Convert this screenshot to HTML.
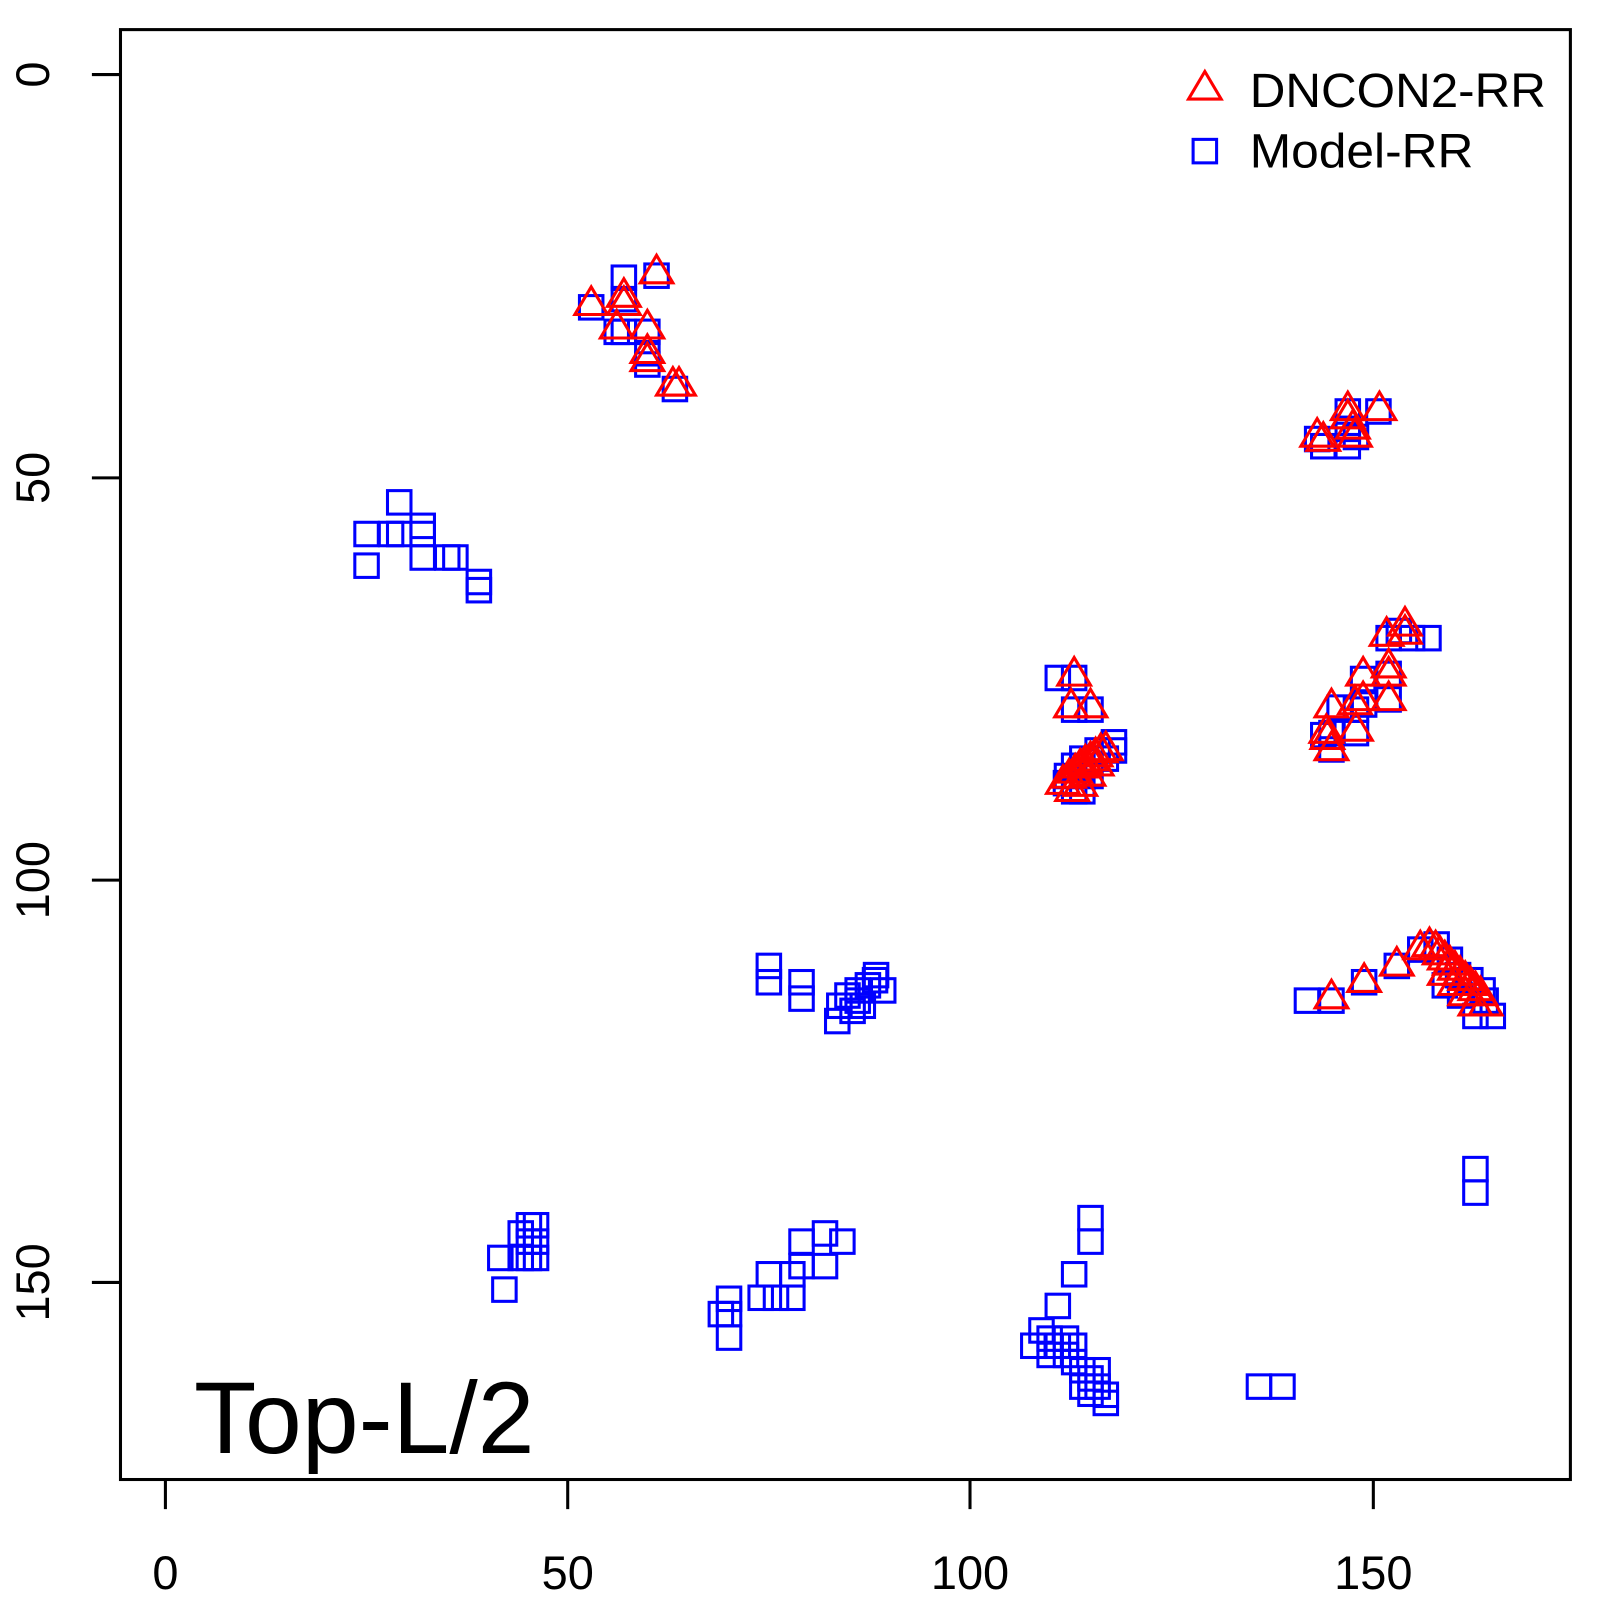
<!DOCTYPE html>
<html><head><meta charset="utf-8"><style>html,body{margin:0;padding:0;background:#fff}svg{display:block}</style></head>
<body>
<svg id="s" width="1600" height="1600" viewBox="0 0 1567 1567" xmlns="http://www.w3.org/2000/svg" font-family="Liberation Sans, Arial, sans-serif">
<rect x="0" y="0" width="1567" height="1567" fill="#fff"/>
<rect x="118" y="29" width="1420" height="1420" fill="none" stroke="#000" stroke-width="3"/>
<g stroke="#000" stroke-width="3">
<line x1="90" y1="73" x2="118" y2="73"/><line x1="90" y1="468" x2="118" y2="468"/><line x1="90" y1="862" x2="118" y2="862"/><line x1="90" y1="1256" x2="118" y2="1256"/>
<line x1="162" y1="1449" x2="162" y2="1478"/><line x1="556" y1="1449" x2="556" y2="1478"/><line x1="950" y1="1449" x2="950" y2="1478"/><line x1="1345" y1="1449" x2="1345" y2="1478"/>
</g>
<g font-size="46" text-anchor="middle" fill="#000">
<text transform="translate(48,73) rotate(-90)">0</text>
<text transform="translate(48,468) rotate(-90)">50</text>
<text transform="translate(48,862) rotate(-90)">100</text>
<text transform="translate(48,1256) rotate(-90)">150</text>
<text x="162" y="1556">0</text><text x="556" y="1556">50</text><text x="950" y="1556">100</text><text x="1345" y="1556">150</text>
</g>
<text x="190" y="1423" font-size="100" fill="#000">Top-L/2</text>
<text x="1224" y="105" font-size="47" fill="#000" textLength="290" lengthAdjust="spacingAndGlyphs">DNCON2-RR</text>
<text x="1224" y="164" font-size="47" fill="#000" textLength="219" lengthAdjust="spacingAndGlyphs">Model-RR</text>
<g id="sq" fill="none" stroke="#0000ff" stroke-width="3"></g>
<g id="tr" fill="none" stroke="#ff0000" stroke-width="3"></g>
</svg>
<script>
var S=[[1180,148],[611,272],[643,270],[579,301],[611,293],[604,325],[634,325],[611,325],[634,346],[634,357],[661,381],
[1350,403],[1320,403],[1320,420],[1290,430],[1296,437],[1320,437],[1328,428],
[391,492],[359,523],[383,523],[414,515],[414,523],[391,523],[359,554],[414,546],[438,546],[446,546],[469,570],[469,578],
[1036,664],[1052,664],[1052,695],[1068,695],[1091,727],[1075,735],[1060,743],[1052,750],[1045,760],[1044,767],[1052,775],[1060,775],[1068,760],[1083,743],[1091,735],
[1383,625],[1399,625],[1360,625],[1370,618],[1360,660],[1335,665],[1360,685],[1336,690],[1328,695],[1312,693],[1304,718],[1296,720],[1328,718],[1304,734],
[1280,980],[1304,980],[1336,962],[1368,946],[1391,930],[1407,925],[1420,940],[1428,955],[1440,960],[1452,970],[1445,995],[1462,995],[1415,965],[1430,975],[1455,980],
[753,946],[753,962],[785,962],[785,978],[820,1000],[822,985],[835,990],[840,970],[850,965],[857,960],[865,970],[845,985],[830,975],[858,955],[840,980],
[1445,1145],[1445,1168],
[518,1200],[525,1200],[510,1208],[518,1216],[525,1216],[510,1232],[518,1232],[525,1232],[490,1232],[494,1263],
[714,1272],[714,1287],[706,1287],[714,1310],[745,1271],[760,1271],[776,1271],[753,1248],[776,1248],[785,1240],[785,1216],[808,1208],[808,1240],[825,1216],
[1068,1193],[1068,1216],[1052,1248],[1036,1279],[1020,1303],[1012,1318],[1028,1311],[1028,1327],[1036,1318],[1044,1327],[1052,1334],[1060,1342],[1068,1350],[1075,1358],[1083,1366],[1060,1358],[1075,1342],[1044,1311],[1068,1365],[1083,1374],[1052,1318],
[1233,1358],[1256,1358]];
var T=[[1180,88],[643,268],[579,299],[611,291],[611,299],[604,322],[634,322],[634,346],[634,354],[659,378],[665,378],
[1351,402],[1320,402],[1320,410],[1325,420],[1290,428],[1296,432],[1327,428],
[1052,662],[1049,693],[1068,693],[1041,768],[1047,762],[1053,757],[1058,752],[1063,748],[1068,745],[1073,741],[1078,737],[1083,735],[1050,775],[1058,770],[1066,760],[1074,750],
[1376,613],[1376,621],[1358,623],[1360,654],[1360,662],[1335,662],[1335,686],[1304,693],[1327,690],[1328,716],[1299,718],[1304,735],[1360,686],[1300,724],
[1304,978],[1336,962],[1368,946],[1391,930],[1400,927],[1406,930],[1410,935],[1415,940],[1420,945],[1425,950],[1430,955],[1435,960],[1440,965],[1445,970],[1450,975],[1455,985],[1415,955],[1425,965],[1435,975],[1445,985]];
var ns="http://www.w3.org/2000/svg",g=document.getElementById("sq"),h=document.getElementById("tr");
S.forEach(function(p){var r=document.createElementNS(ns,"rect");r.setAttribute("x",p[0]-11.5);r.setAttribute("y",p[1]-11.5);r.setAttribute("width",23);r.setAttribute("height",23);g.appendChild(r);});
T.forEach(function(p){var r=document.createElementNS(ns,"polygon");var x=p[0],y=p[1];r.setAttribute("points",(x-16)+","+(y+9)+" "+(x+16)+","+(y+9)+" "+x+","+(y-18));h.appendChild(r);});
</script>
</body></html>
